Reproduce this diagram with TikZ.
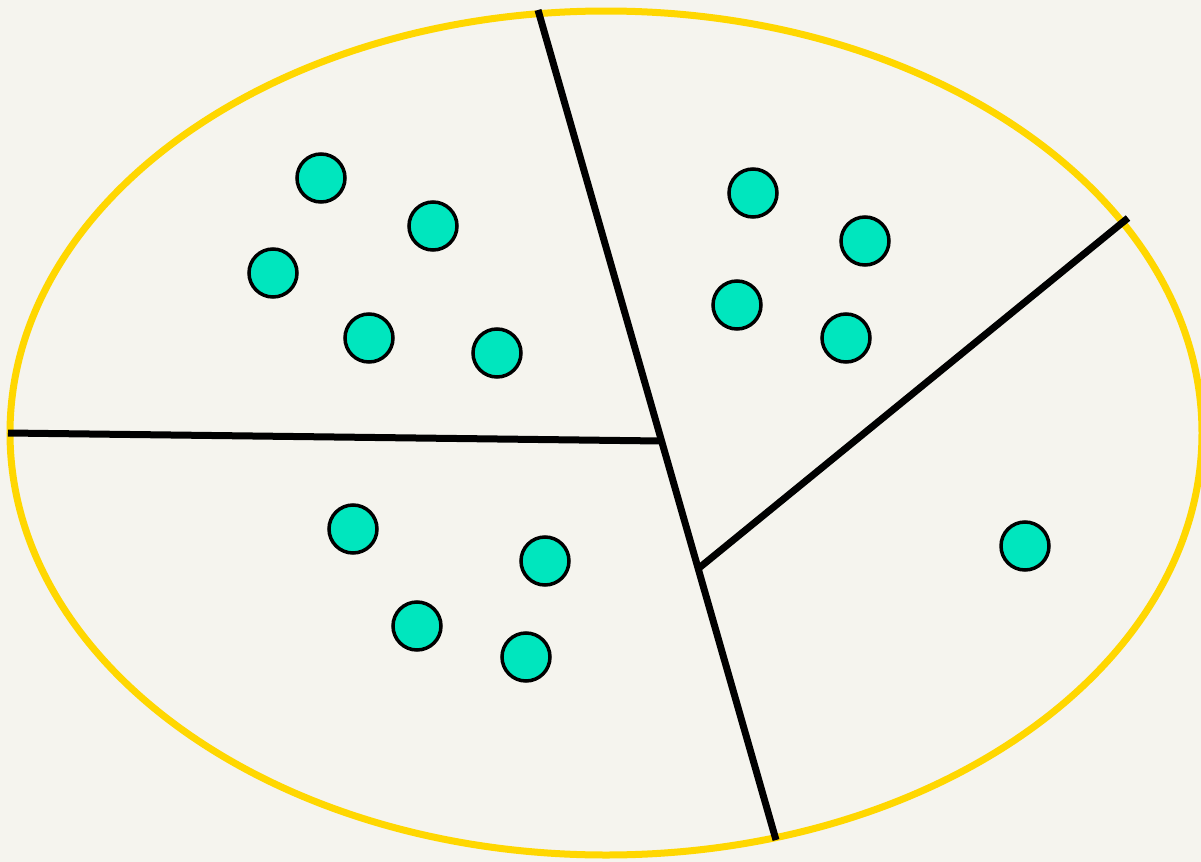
\documentclass[tikz,border=0pt]{standalone}
\definecolor{bg}{HTML}{F5F4EE}
\definecolor{rim}{HTML}{FFD700}
\definecolor{dotc}{HTML}{00E6BE}
\tikzset{
  dotnode/.style={circle,draw=black,fill=dotc,line width=3.5bp,minimum size=48bp,inner sep=0pt},
  divider/.style={draw=black,line width=7bp},
}
\begin{document}
\begin{tikzpicture}[x=1bp,y=-1bp]
\path[fill=bg,use as bounding box] (0,0) rectangle (1201,862);
\begin{scope}
\clip (0,0) rectangle (1201,862);
\draw[rim,line width=7bp] (606,433) ellipse [x radius=596, y radius=422];
\end{scope}
\coordinate (top) at (538,10);
\coordinate (bot) at (776,840);
\coordinate (left) at (8,433);
\coordinate (j1) at (661,441);
\coordinate (j2) at (699,568);
\coordinate (right) at (1128,218);
\draw[divider] (top) -- (bot);
\draw[divider] (left) -- (j1);
\draw[divider] (j2) -- (right);
\foreach \n/\x/\y in {a1/321/178,a2/433/226,a3/273/273,a4/369/338,a5/497/353,
  b1/753/193,b2/865/241,b3/737/305,b4/846/338,
  c1/353/529,c2/545/561,c3/417/626,c4/526/657,
  d1/1025/546}
  \node[dotnode] (\n) at (\x,\y) {};
\end{tikzpicture}
\end{document}
